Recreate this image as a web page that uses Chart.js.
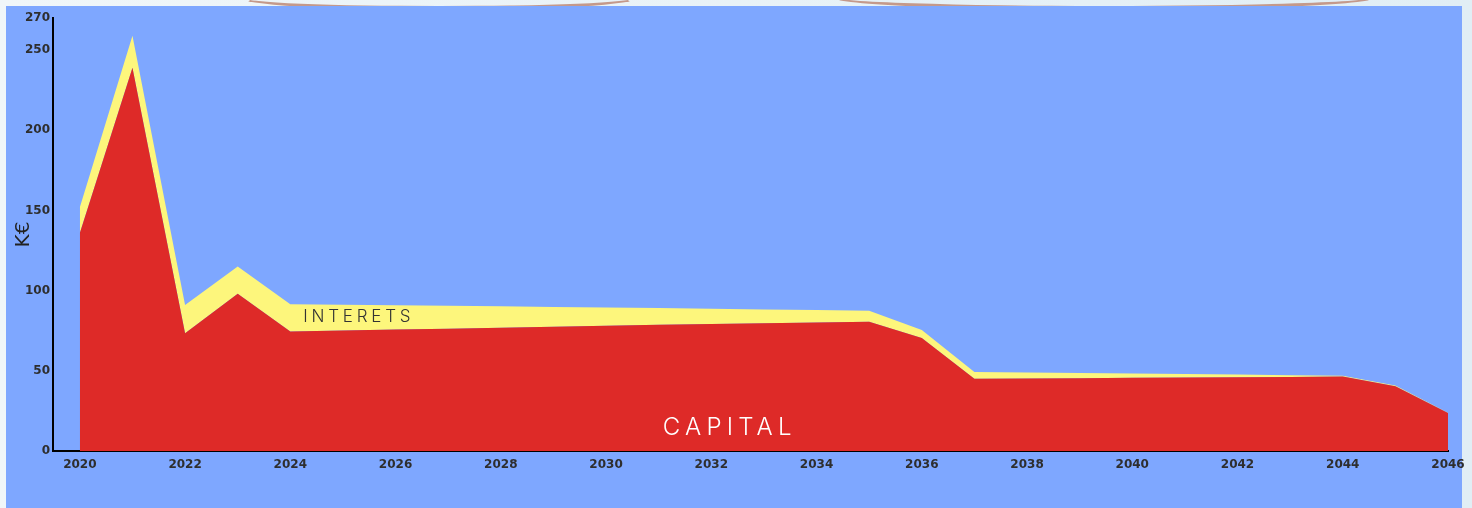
<!DOCTYPE html>
<html>
<head>
<meta charset="utf-8">
<script src="https://cdn.jsdelivr.net/npm/chart.js@4"></script>
<style>
  html, body { margin: 0; padding: 0; }
  body {
    width: 1472px; height: 508px; overflow: hidden; position: relative;
    background: linear-gradient(90deg, #f0f6f9, #e1eef5);
  }
  .arc {
    position: absolute; border-radius: 50%;
    border: 4px solid transparent; border-bottom-color: #c4998b;
  }
  #panel {
    position: absolute; left: 6px; top: 6px; width: 1456px; height: 502px;
    background: #7ea7ff;
  }
  #wrap { position: absolute; left: 0; top: 0; width: 1472px; height: 508px; }
</style>
</head>
<body>
<div class="arc" style="left:240px; top:-14px; width:390px; height:16px;"></div>
<div class="arc" style="left:830px; top:-16px; width:540px; height:18px;"></div>
<div id="panel"></div>
<div id="wrap"><canvas id="chart"></canvas></div>
<script>
// Annees, capital et interets (K€)
const years = [2020, 2021, 2022, 2023, 2024, 2025, 2026, 2027, 2028, 2029, 2030, 2031, 2032, 2033,
               2034, 2035, 2036, 2037, 2038, 2039, 2040, 2041, 2042, 2043, 2044, 2045, 2046];
const capital = [136, 239, 73.5, 98, 74.5, 75.1, 75.7, 76.3, 76.9, 77.5, 78.1, 78.7, 79.2, 79.7,
                 80.2, 80.6, 70.5, 45, 45.2, 45.4, 45.6, 45.8, 46, 46.2, 46.4, 40.4, 23.7];
const interets = [16, 20, 17.5, 17, 17, 16.1, 15.2, 14.3, 13.3, 12.3, 11.4, 10.4, 9.5, 8.6,
                  7.7, 6.8, 4.9, 4.3, 3.8, 3.3, 2.8, 2.2, 1.7, 1.1, 0.5, 0.4, 0.2];
const yTicks = [0, 50, 100, 150, 200, 250, 270];
const xTicks = [2020, 2022, 2024, 2026, 2028, 2030, 2032, 2034, 2036, 2038, 2040, 2042, 2044, 2046];

const TICK_FONT = { family: 'DejaVu Sans', size: 12, weight: 'bold' };

// Textes poses dans les aires
const areaLabels = {
    id: 'areaLabels',
    afterDatasetsDraw(chart) {
        const { ctx, scales: { x, y } } = chart;
        const items = [
            { text: 'INTERETS', x: 2025.3, y: 83.5, color: '#333', size: 17, spacing: '3.8px' },
            { text: 'CAPITAL', x: 2032.35, y: 14.3, color: '#ffffff', size: 24, spacing: '5.2px' }
        ];
        ctx.save();
        ctx.textAlign = 'center';
        ctx.textBaseline = 'middle';
        items.forEach(it => {
            ctx.font = `300 ${it.size}px Inter, "Open Sans", sans-serif`;
            ctx.letterSpacing = it.spacing;
            ctx.fillStyle = it.color;
            ctx.fillText(it.text, x.getPixelForValue(it.x), y.getPixelForValue(it.y));
        });
        ctx.restore();
    }
};

new Chart(document.getElementById('chart'), {
    type: 'line',
    data: {
        datasets: [
            {
                label: 'Capital',
                data: years.map((yr, i) => ({ x: yr, y: capital[i] })),
                backgroundColor: '#de2a28',
                borderWidth: 0,
                pointRadius: 0,
                fill: 'origin'
            },
            {
                label: 'Interets',
                data: years.map((yr, i) => ({ x: yr, y: interets[i] })),
                backgroundColor: '#fdf67c',
                borderWidth: 0,
                pointRadius: 0,
                fill: '-1'
            }
        ]
    },
    options: {
        responsive: true,
        maintainAspectRatio: false,
        animation: false,
        layout: { padding: { left: 0, top: 18, right: 24, bottom: 0 } },
        plugins: { legend: { display: false }, tooltip: { enabled: false } },
        scales: {
            x: {
                type: 'linear',
                min: 2019.49,
                max: 2046,
                grid: { display: false, drawTicks: false },
                border: { display: true, color: '#000', width: 2 },
                afterBuildTicks: s => { s.ticks = xTicks.map(v => ({ value: v })); },
                afterFit: s => { s.height = 57; },
                ticks: { color: '#2e2e2e', font: TICK_FONT, padding: 7, maxRotation: 0, autoSkip: false,
                         callback: v => String(v) }
            },
            y: {
                stacked: true,
                min: 0,
                max: 270,
                grid: { display: false, drawTicks: false },
                border: { display: true, color: '#000', width: 2 },
                afterBuildTicks: s => { s.ticks = yTicks.map(v => ({ value: v })); },
                afterFit: s => { s.width = 53; },
                ticks: { color: '#2e2e2e', font: TICK_FONT, padding: 3, callback: v => String(v) },
                title: {
                    display: true,
                    text: 'K€',
                    color: '#222',
                    font: { family: 'DejaVu Sans', size: 20 },
                    padding: { top: 12, bottom: 0 }
                }
            }
        }
    },
    plugins: [areaLabels]
});
</script>
</body>
</html>
